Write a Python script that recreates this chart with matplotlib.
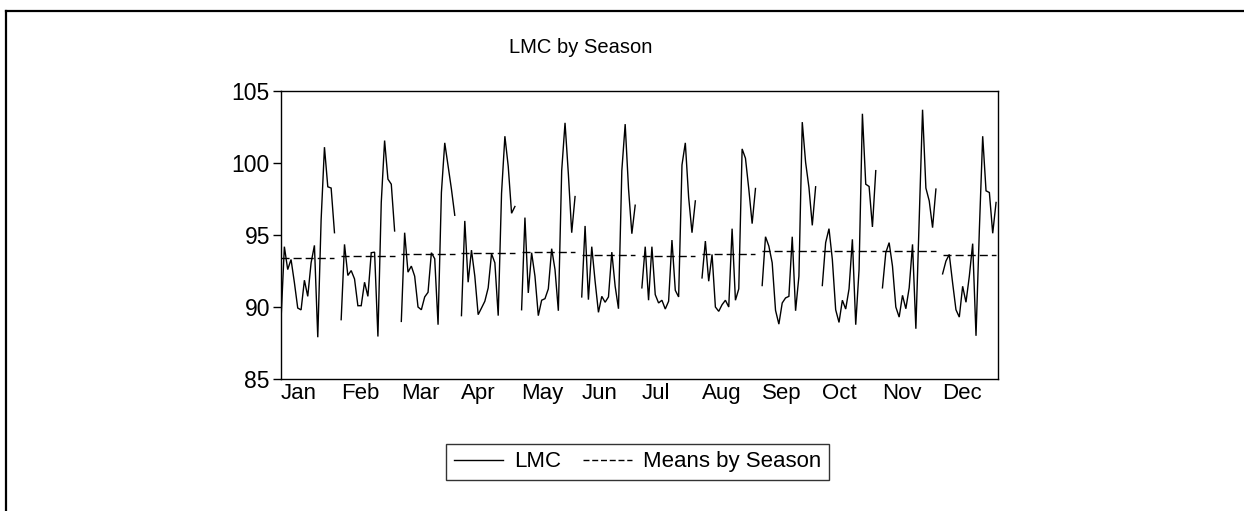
import matplotlib
matplotlib.use("Agg")
import matplotlib.pyplot as plt
from matplotlib.lines import Line2D
import numpy as np

plt.rcParams['font.family'] = ['Liberation Sans', 'DejaVu Sans']

months = ['Jan', 'Feb', 'Mar', 'Apr', 'May', 'Jun',
          'Jul', 'Aug', 'Sep', 'Oct', 'Nov', 'Dec']

# LMC values by month (one value per year)
jan = [89.1, 94.19, 92.6, 93.3, 91.7, 89.93, 89.8, 91.86, 90.74, 93.07, 94.28, 87.9, 96.05, 101.1, 98.35, 98.26, 95.16]
feb = [89.12, 94.35, 92.19, 92.53, 91.95, 90.09, 90.09, 91.72, 90.74, 93.77, 93.81, 87.95, 97.26, 101.56, 98.88, 98.53, 95.28]
mar = [89.0, 95.16, 92.42, 92.84, 92.14, 90.0, 89.81, 90.7, 91.02, 93.77, 93.35, 88.77, 97.95, 101.4, 99.8, 98.19, 96.37]
apr = [89.4, 95.98, 91.72, 93.95, 92.14, 89.47, 89.93, 90.4, 91.33, 93.7, 93.07, 89.4, 97.9, 101.86, 99.77, 96.51, 96.98]
may = [89.81, 96.21, 90.98, 93.77, 92.14, 89.4, 90.47, 90.58, 91.26, 94.05, 92.6, 89.74, 99.47, 102.79, 99.23, 95.16, 97.67]
jun = [90.7, 95.63, 90.51, 94.19, 91.79, 89.63, 90.74, 90.33, 90.7, 93.81, 91.44, 89.88, 99.47, 102.7, 98.23, 95.09, 97.07]
jul = [91.33, 94.19, 90.47, 94.19, 90.86, 90.28, 90.47, 89.86, 90.4, 94.65, 91.16, 90.7, 99.86, 101.4, 97.6, 95.16, 97.37]
aug = [92.02, 94.58, 91.79, 93.65, 90.0, 89.7, 90.16, 90.47, 90.0, 95.44, 90.47, 91.26, 100.98, 100.33, 98.19, 95.79, 98.23]
sep = [91.49, 94.88, 94.23, 93.07, 89.77, 88.81, 90.28, 90.63, 90.74, 94.88, 89.74, 92.14, 102.84, 100.05, 98.3, 95.67, 98.35]
oct_ = [91.49, 94.47, 95.44, 93.3, 89.81, 88.93, 90.47, 89.86, 91.26, 94.7, 88.77, 92.6, 103.42, 98.53, 98.37, 95.56, 99.47]
nov = [91.33, 93.77, 94.47, 92.84, 90.0, 89.3, 90.81, 89.88, 91.33, 94.35, 88.49, 96.09, 103.7, 98.26, 97.37, 95.51, 98.19]
dec = [92.3, 93.19, 93.65, 91.67, 89.81, 89.3, 91.44, 90.33, 92.14, 94.4, 88.0, 95.35, 101.86, 98.07, 97.95, 95.12, 97.26]

series = [jan, feb, mar, apr, may, jun, jul, aug, sep, oct_, nov, dec]

fig = plt.figure(figsize=(12.44, 5.11), dpi=100)
ax = fig.add_axes([0.2259, 0.2583, 0.5764, 0.5636])

slot = 18
for m, vals in enumerate(series):
    x = m * slot + np.arange(len(vals))
    ax.plot(x, vals, color='black', lw=1.0, solid_joinstyle='miter')
    mean = np.mean(vals)
    ax.plot([x[0], x[-1]], [mean, mean], color='black', lw=1.0,
            dashes=(5.8, 2.9))

ax.set_xlim(0, 214.6)
ax.set_ylim(85, 105)
ax.set_yticks([85, 90, 95, 100, 105])
ax.tick_params(axis='y', direction='out', length=6, width=1,
               labelsize=16.5, pad=2)
ax.set_xticks([m * slot for m in range(12)])
ax.set_xticklabels(months, ha='left')
ax.tick_params(axis='x', length=0, labelsize=16, pad=3)
for s in ax.spines.values():
    s.set_linewidth(1.0)

fig.text(0.467, 0.907, 'LMC by Season', ha='center', va='center', fontsize=14.5)

handles = [Line2D([], [], color='black', lw=1.0),
           Line2D([], [], color='black', lw=1.0, dashes=(4.3, 2.0))]
leg = fig.legend(handles, ['LMC', 'Means by Season'], loc='center',
                 bbox_to_anchor=(0.5125, 0.096), ncol=2, fontsize=16,
                 frameon=True, fancybox=False, handlelength=2.2,
                 handletextpad=0.5, columnspacing=1.0, borderpad=0.35)
leg.get_frame().set_edgecolor('black')
leg.get_frame().set_linewidth(1.0)

# outer frame (left and top edges)
fig.add_artist(Line2D([6 / 1244, 6 / 1244], [0, 1 - 11 / 511],
                      transform=fig.transFigure, color='black', lw=1.6))
fig.add_artist(Line2D([6 / 1244, 1], [1 - 11 / 511, 1 - 11 / 511],
                      transform=fig.transFigure, color='black', lw=1.6))

fig.savefig('out.png', dpi=100)
